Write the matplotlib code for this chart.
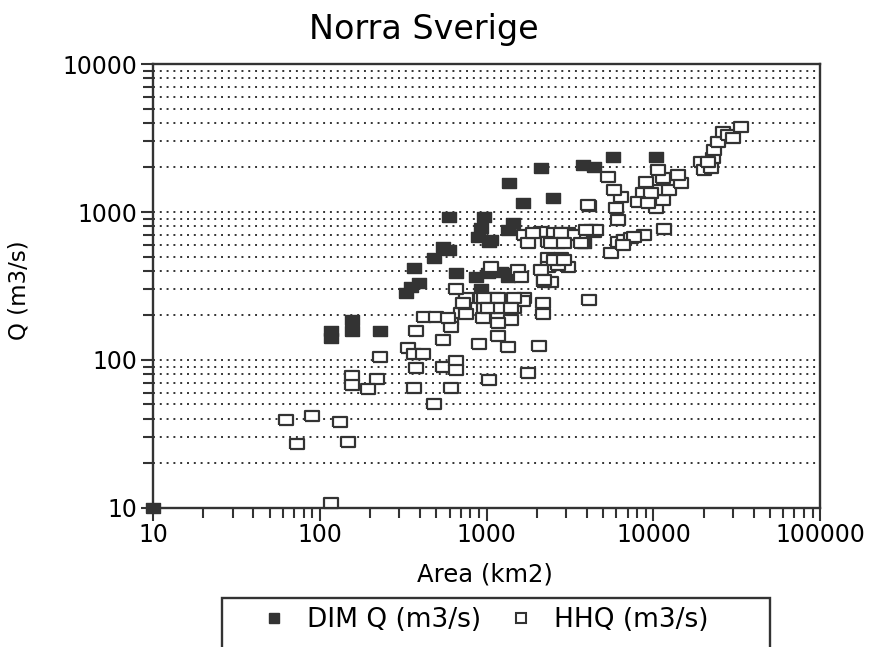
import matplotlib
matplotlib.use('Agg')
import matplotlib.pyplot as plt
from matplotlib.ticker import LogLocator, FixedLocator, FixedFormatter, NullFormatter
from matplotlib.lines import Line2D
from matplotlib.patches import Rectangle

plt.rcParams['font.family'] = ['DejaVu Sans']

# Data
dim_area = [10, 116, 117, 157, 157, 231, 327, 350, 391, 365, 481, 545, 592, 592,
            652, 859, 1014, 1213, 1393, 1337, 920, 920, 959, 1057, 883, 1028,
            1432, 1337, 1355, 1644, 2489, 2109, 3776, 4396, 5715, 10350, 3828]
dim_q = [10, 156, 140, 185, 158, 158, 282, 309, 329, 416, 486, 577, 920, 550,
         385, 361, 385, 391, 385, 361, 304, 776, 920, 643, 675, 624,
         847, 752, 1563, 1146, 1239, 1977, 2070, 2009, 2344, 2344, 614]

hhq_area = [63, 73, 90, 133, 148, 117, 157, 157, 221, 195, 231, 336, 365, 413,
            375, 375, 365, 481, 608, 545, 652, 652, 545, 419, 494, 608, 608,
            698, 728, 896, 1337, 2051, 1028, 1762, 2168, 2168, 1667, 1265, 1452,
            959, 946, 1164, 1393, 1164, 748, 920, 1102, 652, 583, 748, 1644,
            4100, 5560, 6130, 6650, 7330, 8770, 11560, 10350, 11400, 10800,
            12400, 14620, 14030, 11400, 10640, 9020, 8650, 9660, 8070, 9270,
            6380, 5800, 5960, 6130, 5330, 4100, 19280, 20100, 22130, 22750,
            23070, 24380, 26120, 27990, 29990, 33570, 21230, 718, 959, 1164,
            1452, 1014, 1213, 1393, 1164, 2323, 2780, 3060, 2323, 2670, 2200,
            2420, 1667, 1762, 2109, 2520, 3060, 3300, 4220, 2323, 2670, 3670,
            1535, 4030, 1057, 1600, 2109, 2200, 2520, 2900, 4400, 1888, 2780,
            2420, 2900, 4520, 3940, 7640, 6550]
hhq_q = [39, 27, 42, 38, 28, 10.8, 78, 68, 74, 64, 105, 120, 110, 110,
         156, 88, 65, 50, 65, 89, 99, 85, 137, 194, 194, 185, 166,
         209, 241, 129, 123, 125, 73, 82, 241, 206, 261, 226, 226,
         226, 191, 191, 185, 146, 261, 264, 264, 304, 191, 206, 252,
         256, 525, 624, 643, 664, 695, 764, 1059, 1199, 1403,
         1403, 1563, 1770, 1690, 1914, 1589, 1340, 1340, 1164, 1146,
         1259, 1403, 1059, 879, 1718, 1094, 2170, 1914, 1977, 2312,
         2618, 2965, 3467, 3304, 3155, 3762, 2170, 241, 264, 264,
         261, 226, 226, 226, 179, 486, 486, 423, 423, 436, 334,
         334, 695, 614, 730, 718, 718, 695, 752, 624, 614, 614,
         403, 1109, 423, 361, 403, 345, 471, 471, 730, 718, 718,
         614, 614, 752, 752, 675, 596]

x_ticks = [10, 100, 1000, 10000, 100000]
x_labels = ['10', '100', '1000', '10000', '100000']
y_ticks = [10, 100, 1000, 10000]
y_labels = ['10', '100', '1000', '10000']

dark = '#333333'
rect = [(-1.4, -1), (1.4, -1), (1.4, 1), (-1.4, 1), (-1.4, -1)]

fig = plt.figure(figsize=(8.69, 6.47), dpi=100)
ax = fig.add_axes([0.176, 0.215, 0.768, 0.686])
ax.set_xscale('log')
ax.set_yscale('log')

ax.scatter(dim_area, dim_q, marker=rect, s=110, facecolor=dark, edgecolor=dark,
           linewidth=1, zorder=3, clip_on=False)
ax.scatter(hhq_area, hhq_q, marker=rect, s=112, facecolor='white', edgecolor=dark,
           linewidth=1.6, zorder=4, clip_on=False)

ax.set_xlim(10, 100000)
ax.set_ylim(10, 10000)

ax.xaxis.set_major_locator(FixedLocator(x_ticks))
ax.xaxis.set_major_formatter(FixedFormatter(x_labels))
ax.xaxis.set_minor_locator(LogLocator(base=10, subs=range(2, 10)))
ax.xaxis.set_minor_formatter(NullFormatter())
ax.yaxis.set_major_locator(FixedLocator(y_ticks))
ax.yaxis.set_major_formatter(FixedFormatter(y_labels))
ax.yaxis.set_minor_locator(LogLocator(base=10, subs=range(2, 10)))
ax.yaxis.set_minor_formatter(NullFormatter())

ax.grid(which='both', axis='y', linestyle=(0, (1, 2.5)), color=dark, linewidth=1.4)
ax.set_axisbelow(True)

for s in ax.spines.values():
    s.set_linewidth(1.7)
    s.set_color(dark)
ax.tick_params(which='major', direction='out', length=9, width=1.5, colors=dark,
               labelsize=17, pad=2)
ax.tick_params(which='minor', direction='out', length=7, width=1.5, colors=dark)
for lbl in ax.get_xticklabels() + ax.get_yticklabels():
    lbl.set_color('black')

ax.set_xlabel('Area (km2)', fontsize=17.5)
ax.xaxis.set_label_coords(0.498, -0.124)
ax.set_ylabel('Q (m3/s)', fontsize=16.5)
ax.yaxis.set_label_coords(-0.184, 0.491)

fig.text(424 / 869, 1 - 30 / 647, 'Norra Sverige', ha='center', va='center',
         fontsize=24)

# legend box, cut off by the bottom edge as in the scan
fig.add_artist(Rectangle((222 / 869, -0.05), (770 - 222) / 869, 1 - 598 / 647 + 0.05,
                         transform=fig.transFigure, fill=False, linewidth=1.7,
                         edgecolor=dark, clip_on=False))
handles = [Line2D([], [], marker='s', linestyle='none', color=dark, markersize=7),
           Line2D([], [], marker='s', linestyle='none', markerfacecolor='white',
                  markeredgecolor=dark, markeredgewidth=1.5, markersize=7)]
fig.legend(handles, ['DIM Q (m3/s)', 'HHQ (m3/s)'], loc='center',
           bbox_to_anchor=(0.558, 0.042), ncol=2, frameon=False, fontsize=19,
           handlelength=1.0, handletextpad=0.75, columnspacing=1.0)

fig.savefig('out.png', dpi=100)
